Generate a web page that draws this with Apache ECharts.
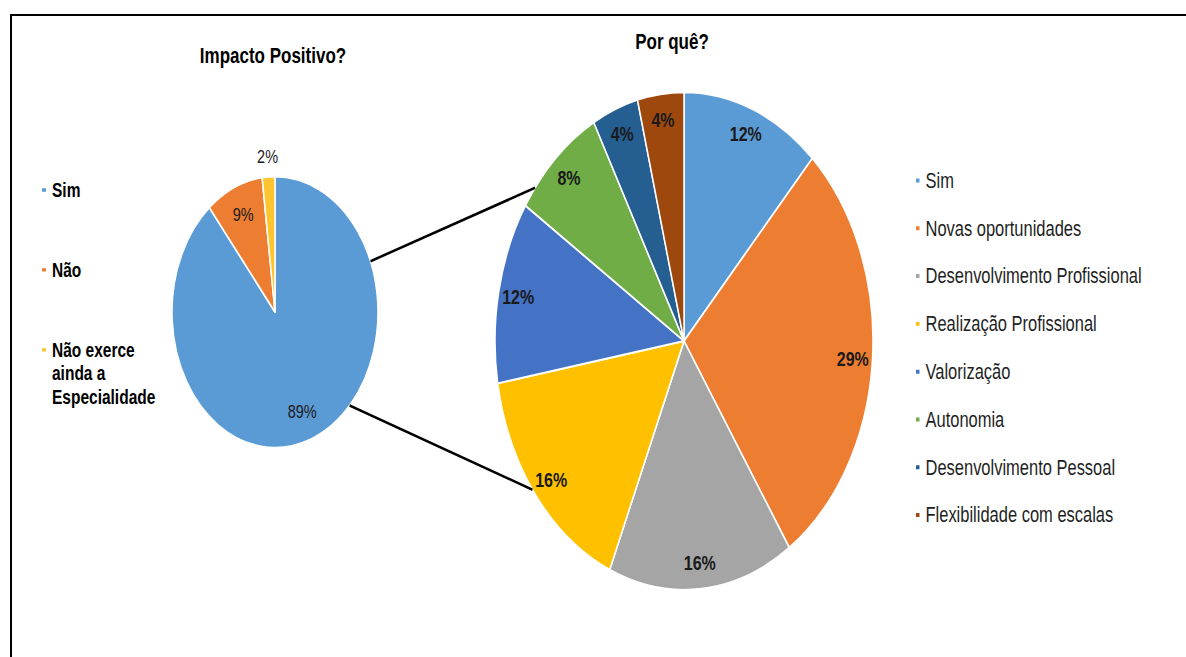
<!DOCTYPE html>
<html><head><meta charset="utf-8">
<script src="https://cdn.jsdelivr.net/npm/echarts@6/dist/echarts.min.js"></script>
<style>
html,body{margin:0;padding:0;background:#fff;overflow:hidden;width:1186px;height:657px;}
#frame{position:absolute;left:10px;top:14px;width:1200px;height:700px;border-left:2px solid #000;border-top:2px solid #000;}
#chart{position:absolute;left:0;top:0;width:1186px;height:499px;transform:scaleY(1.3166);transform-origin:0 0;}
</style></head><body>
<div id="frame"></div>
<div id="chart"></div>
<script>
// ---- data ----
const leftTitle = 'Impacto Positivo?';
const rightTitle = 'Por quê?';
const leftCategories = ['Sim', 'Não', 'Não exerce ainda a Especialidade'];
const leftLegendLabels = ['Sim', 'Não', '\n\nNão exerce\nainda a\nEspecialidade'];
const leftValues = [89, 9, 2];
const rightCategories = ['Sim', 'Novas oportunidades', 'Desenvolvimento Profissional', 'Realização Profissional', 'Valorização', 'Autonomia', 'Desenvolvimento Pessoal', 'Flexibilidade com escalas'];
const rightValues = [12, 29, 16, 16, 12, 8, 4, 4];

// ---- styles / layout ----
const leftColors = ['#5B9BD5', '#ED7D31', '#FDC530'];
const rightColors = ['#5B9BD5', '#ED7D31', '#A5A5A5', '#FFC000', '#4472C4', '#70AD47', '#255E91', '#9E480E'];
const FONT = "'Liberation Sans', Arial, sans-serif";
const LP = {cx: 275, cy: 237, r: 103};
const RP = {cx: 684, cy: 259, r: 189};
const leftLabelOutside = [false, false, true];
const connectorAngles = [[-22, -142], [43.6, 143.3]];

function pt(p, deg) {
  const a = deg * Math.PI / 180;
  return [p.cx + p.r * Math.cos(a), p.cy + p.r * Math.sin(a)];
}

const chart = echarts.init(document.getElementById('chart'), null, {renderer: 'svg'});

const connectors = connectorAngles.map(([a1, a2]) => {
  const s = pt(LP, a1), e = pt(RP, a2);
  return {type: 'line', z: 10, silent: true,
    shape: {x1: s[0], y1: s[1], x2: e[0], y2: e[1]},
    style: {stroke: '#000', lineWidth: 2}};
});

const leftLegendBase = {
  orient: 'vertical', left: 40, padding: 0, itemWidth: 6, itemHeight: 4.5, icon: 'rect',
  selectedMode: false,
  formatter: name => leftLegendLabels[leftCategories.indexOf(name)],
  textStyle: {fontFamily: FONT, fontSize: 15.5, fontWeight: 'bold', lineHeight: 18, color: '#000'}
};
const leftLegendTops = [135.3, 196, 220.8];

const legends = leftCategories.map((name, i) => Object.assign({}, leftLegendBase, {
  top: leftLegendTops[i],
  data: [{name: name, itemStyle: {color: leftColors[i]}}]
}));
legends.push({
  orient: 'vertical', left: 914, top: 128.6, padding: 0, itemWidth: 5.5, itemHeight: 5, itemGap: 19.3,
  icon: 'rect', selectedMode: false,
  data: rightCategories.map((n, i) => ({name: n, itemStyle: {color: rightColors[i]}})),
  textStyle: {fontFamily: FONT, fontSize: 16.5, lineHeight: 16, color: '#1f1f1f'}
});

const baseVisible = {
  type: 'pie', startAngle: 90, clockwise: true, silent: true, avoidLabelOverlap: false,
  label: {show: false}, labelLine: {show: false}, emphasis: {disabled: true},
  itemStyle: {borderColor: '#fff', borderWidth: 1.5}
};
const baseOverlay = {
  type: 'pie', startAngle: 90, clockwise: true, silent: true, avoidLabelOverlap: false,
  labelLine: {show: false}, emphasis: {disabled: true},
  itemStyle: {color: 'rgba(0,0,0,0)', borderWidth: 0}
};

const option = {
  animation: false,
  backgroundColor: 'transparent',
  title: [
    {text: leftTitle, left: 273, top: 33.5, textAlign: 'center', padding: 0,
     textStyle: {fontFamily: FONT, fontSize: 17, fontWeight: 'bold', color: '#000', lineHeight: 17}},
    {text: rightTitle, left: 672, top: 22.8, textAlign: 'center', padding: 0,
     textStyle: {fontFamily: FONT, fontSize: 17, fontWeight: 'bold', color: '#000', lineHeight: 17}}
  ],
  legend: legends,
  graphic: connectors,
  series: [
    Object.assign({}, baseVisible, {
      center: [LP.cx, LP.cy], radius: [0, LP.r],
      data: leftCategories.map((n, i) => ({name: n, value: leftValues[i], itemStyle: {color: leftColors[i]}}))
    }),
    Object.assign({}, baseOverlay, {
      center: [LP.cx, LP.cy], radius: [0.5 * LP.r, LP.r],
      data: leftValues.map((v, i) => ({value: v, label: {show: !leftLabelOutside[i]}})),
      label: {position: 'inside', formatter: '{c}%', fontFamily: FONT, fontSize: 14.5, color: '#1a1a1a'}
    }),
    Object.assign({}, baseOverlay, {
      center: [LP.cx, LP.cy], radius: [LP.r, 1.24 * LP.r],
      data: leftValues.map((v, i) => ({value: v, label: {show: leftLabelOutside[i]}})),
      label: {position: 'inside', formatter: '{c}%', fontFamily: FONT, fontSize: 14.5, color: '#1a1a1a'}
    }),
    Object.assign({}, baseVisible, {
      center: [RP.cx, RP.cy], radius: [0, RP.r],
      data: rightCategories.map((n, i) => ({name: n, value: rightValues[i], itemStyle: {color: rightColors[i]}}))
    }),
    Object.assign({}, baseOverlay, {
      center: [RP.cx, RP.cy], radius: [0.76 * RP.r, RP.r],
      data: rightValues.map(v => ({value: v})),
      label: {show: true, position: 'inside', formatter: '{c}%', fontFamily: FONT, fontSize: 16, fontWeight: 'bold', color: '#1a1a1a'}
    })
  ]
};
chart.setOption(option);
</script>
</body></html>
